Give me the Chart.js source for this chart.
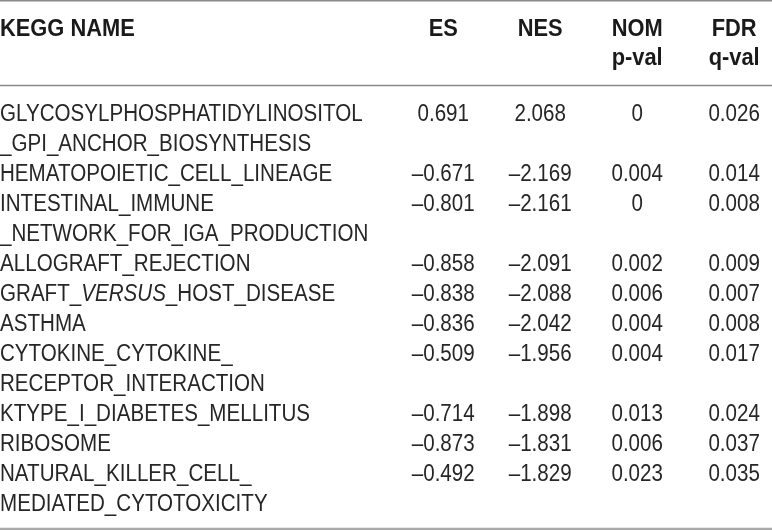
<!DOCTYPE html>
<html>
<head>
<meta charset="utf-8">
<script src="https://cdn.jsdelivr.net/npm/chart.js@4.4.0/dist/chart.umd.min.js"></script>
<style>
  html, body { margin: 0; padding: 0; background: #fff; }
  #wrap { width: 772px; height: 531px; position: relative; }
</style>
</head>
<body>
<div id="wrap"><canvas id="keggTable"></canvas></div>
<script>
// KEGG pathways enriched in GSEA (one entry per table row, "\n" = line break)
const keggNames = [
  "GLYCOSYLPHOSPHATIDYLINOSITOL\n_GPI_ANCHOR_BIOSYNTHESIS",
  "HEMATOPOIETIC_CELL_LINEAGE",
  "INTESTINAL_IMMUNE\n_NETWORK_FOR_IGA_PRODUCTION",
  "ALLOGRAFT_REJECTION",
  "GRAFT_<i>VERSUS</i>_HOST_DISEASE",
  "ASTHMA",
  "CYTOKINE_CYTOKINE_\nRECEPTOR_INTERACTION",
  "KTYPE_I_DIABETES_MELLITUS",
  "RIBOSOME",
  "NATURAL_KILLER_CELL_\nMEDIATED_CYTOTOXICITY"
];
const esValues  = [0.691, -0.671, -0.801, -0.858, -0.838, -0.836, -0.509, -0.714, -0.873, -0.492];
const nesValues = [2.068, -2.169, -2.161, -2.091, -2.088, -2.042, -1.956, -1.898, -1.831, -1.829];
const nomPValues = [0, 0.004, 0, 0.002, 0.006, 0.004, 0.004, 0.013, 0.006, 0.023];
const fdrQValues = [0.026, 0.014, 0.008, 0.009, 0.007, 0.008, 0.017, 0.024, 0.037, 0.035];

const headerTop    = ["KEGG NAME", "ES", "NES", "NOM", "FDR"];
const headerBottom = ["", "", "", "p-val", "q-val"];

// scale set-up: x unit = one value column, y unit = one text line
const X_MIN = -3.57, X_MAX = 4.39;
const Y_MIN = -4.03, Y_MAX = 13.67;

const fmt = v => v === 0 ? "0" : v.toFixed(3).replace("-", "\u2013");

// first text line of every row
const lineStart = [];
keggNames.reduce((acc, n, i) => { lineStart[i] = acc; return acc + n.split("\n").length; }, 0);

const FONT = "'Liberation Sans', Arial, sans-serif";

function valueSet(label, values, col) {
  return {
    label,
    data: values.map((v, i) => ({ x: col, y: lineStart[i], text: fmt(v) })),
    textFont: "23px " + FONT, textColor: "#262626", textAlign: "center", squeeze: 0.895
  };
}

const headerSet = {
  label: "header",
  data: headerTop.map((t, c) => ({ x: c === 0 ? X_MIN : c, y: -2.82, text: t }))
    .concat(headerBottom.map((t, c) => ({ x: c === 0 ? X_MIN : c, y: -1.87, text: t })).filter(p => p.text)),
  textFont: "bold 23px " + FONT, textColor: "#1a1a1a", textAlign: "center", squeeze: 0.95
};

const nameSet = {
  label: "KEGG NAME",
  data: keggNames.map((n, i) => ({ x: X_MIN, y: lineStart[i], text: n })),
  textFont: "23px " + FONT, textColor: "#262626", textAlign: "left", squeeze: 0.895
};

// draws one line of text, horizontally squeezed, with <i>..</i> segments in italic
function drawRich(ctx, line, x, y, ds, align) {
  ctx.save();
  ctx.translate(x, y);
  ctx.scale(ds.squeeze, 1);
  ctx.font = ds.textFont;
  const parts = line.split(/(<i>.*?<\/i>)/).filter(s => s);
  if (parts.length === 1) {
    ctx.textAlign = align;
    ctx.fillText(line, 0, 0);
  } else {
    ctx.textAlign = "left";
    let cx = 0;
    parts.forEach(p => {
      const it = p.startsWith("<i>");
      const t = it ? p.slice(3, -4) : p;
      ctx.font = (it ? "italic " : "") + ds.textFont;
      ctx.fillText(t, cx, 0);
      cx += ctx.measureText(t).width;
    });
  }
  ctx.restore();
}

const tableText = {
  id: "tableText",
  afterDatasetsDraw(chart) {
    const ctx = chart.ctx;
    const ys = chart.scales.y;
    const step = ys.getPixelForValue(1) - ys.getPixelForValue(0);
    ctx.save();
    // horizontal rules: top, under header, bottom
    [[-4.01, 1.6, "#8a8a8a"], [-1.18, 1.6, "#8a8a8a"], [13.6, 2.2, "#a9a9a9"]].forEach(([v, w, c]) => {
      const py = ys.getPixelForValue(v);
      ctx.strokeStyle = c;
      ctx.lineWidth = w;
      ctx.beginPath();
      ctx.moveTo(0, py);
      ctx.lineTo(chart.width, py);
      ctx.stroke();
    });
    chart.data.datasets.forEach((ds, di) => {
      const meta = chart.getDatasetMeta(di);
      ctx.fillStyle = ds.textColor;
      ctx.textBaseline = "alphabetic";
      meta.data.forEach((el, j) => {
        const pt = ds.data[j];
        const align = (pt.x === X_MIN) ? "left" : ds.textAlign;
        pt.text.split("\n").forEach((ln, k) => drawRich(ctx, ln, el.x, el.y + k * step, ds, align));
      });
    });
    ctx.restore();
  }
};

new Chart(document.getElementById("keggTable"), {
  type: "scatter",
  data: {
    datasets: [
      headerSet,
      nameSet,
      valueSet("ES", esValues, 1),
      valueSet("NES", nesValues, 2),
      valueSet("NOM p-val", nomPValues, 3),
      valueSet("FDR q-val", fdrQValues, 4)
    ]
  },
  options: {
    responsive: true,
    maintainAspectRatio: false,
    animation: false,
    layout: { padding: 0 },
    elements: { point: { radius: 0, hoverRadius: 0 } },
    plugins: { legend: { display: false }, tooltip: { enabled: false } },
    scales: {
      x: { type: "linear", min: X_MIN, max: X_MAX, display: false },
      y: { type: "linear", min: Y_MIN, max: Y_MAX, reverse: true, display: false }
    }
  },
  plugins: [tableText]
});
</script>
</body>
</html>
